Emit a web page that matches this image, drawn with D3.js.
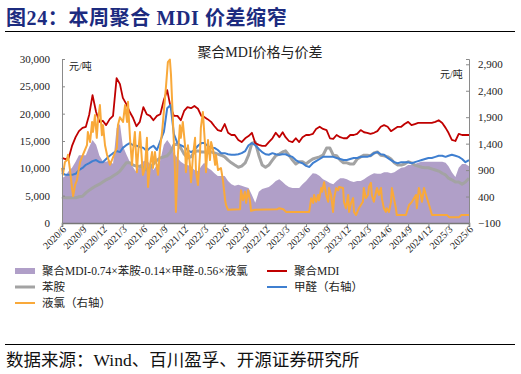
<!DOCTYPE html>
<html><head><meta charset="utf-8">
<script src="https://cdn.jsdelivr.net/npm/d3@7"></script>
<style>body{margin:0;background:#fff}svg{display:block}</style>
</head><body><svg id="c" width="521" height="374"></svg>
<script>
// ---------- data ----------
const xTickLabels = ["2020/6","2020/9","2020/12","2021/3","2021/6","2021/9","2021/12","2022/3","2022/6","2022/9","2022/12","2023/3","2023/6","2023/9","2023/12","2024/3","2024/6","2024/9","2024/12","2025/3","2025/6"];
const leftTicks = [0,5000,10000,15000,20000,25000,30000];
const rightTicks = [-100,400,900,1400,1900,2400,2900];
// semi-monthly observation dates (1st and 16th), 2020-06-01 .. 2025-06-01
const dates = d3.range(121).map(i => new Date(2020, 5 + Math.floor(i / 2), i % 2 ? 16 : 1));

const mdi = [11900,11700,11900,14100,15700,16800,17400,17600,19800,23400,
20300,18500,18700,17900,19000,19600,26500,25400,22900,21800,
20300,19200,17700,18500,21200,19900,19600,18800,19600,19900,
22500,24300,21200,19600,19600,18800,20500,21200,21000,21400,
20900,19600,19400,19000,18500,17700,17000,16800,18100,16500,
16100,16100,15200,14800,15500,15900,16500,14600,14300,14100,
14100,14800,15500,16500,15700,16600,15700,15000,14800,15500,
14800,15700,16100,16100,16300,17200,17600,17200,17000,15500,
15400,16100,15700,15500,15500,16100,16100,16300,17000,16600,
16500,16300,16500,16800,17600,17900,17600,16800,17200,17600,
17600,18100,18500,17900,18100,18300,18300,18300,18300,18300,
18500,18800,18300,17400,16500,15200,15000,16300,16100,16100,
16100];

const aniline = [4800,4600,4600,4600,4600,4800,4900,5500,6000,6400,
6800,7100,7500,7900,8200,8600,9000,9500,10200,11000,
11000,10600,10400,10400,10200,9700,10100,10800,11500,11900,
12100,12300,13000,14300,14500,13700,12600,11900,12100,13000,
13200,13000,13000,12800,13000,12800,12600,12400,12100,11500,
11000,10600,10200,10400,11000,12400,14600,14800,12400,10600,
10200,10600,11500,12300,12600,13000,13200,12400,11500,10800,
11200,11200,10800,11300,11700,11900,12100,12400,13700,13700,
12400,12300,11500,11000,11000,10800,10800,11700,12100,12400,
12400,12300,12800,13000,12400,12300,12100,11700,11000,10600,
10600,10800,11200,11000,10600,10400,10200,10100,10100,9900,
9700,9500,9100,8800,8200,7900,7500,7500,7100,7500,
8200];

const formaldehyde = [850,810,810,810,830,900,940,1000,1030,1070,
1090,1050,1050,1110,1170,1220,1260,1240,1320,1370,
1410,1370,1360,1340,1320,1260,1320,1360,1280,1450,
1620,2070,2130,1580,1410,1370,1340,1280,1240,1280,
1360,1410,1410,1360,1320,1320,1280,1220,1220,1200,
1190,1190,1200,1220,1260,1370,1410,1370,1300,1240,
1200,1190,1220,1200,1190,1200,1200,1170,1150,1090,
1050,1030,980,960,1030,1070,1110,1150,1150,1150,
1150,1130,1110,1090,1090,1110,1130,1130,1150,1150,
1150,1170,1220,1240,1200,1190,1130,1090,1050,1030,
1050,1050,1050,1030,1050,1070,1090,1110,1130,1130,
1150,1170,1170,1150,1170,1190,1170,1150,1110,1050,
1090];

const spread = [8200,8600,9500,10100,11200,12400,12400,12400,13900,15200,
14300,12300,11300,11200,11500,10800,17400,18100,14100,12600,
11200,10200,9300,10600,11300,11500,10800,9700,10600,11500,
14300,15200,14300,12800,11900,11200,10800,10600,10400,9700,
9500,10400,11000,10100,9700,9100,8600,8600,8600,7700,
7100,6800,7000,6800,6600,6400,5100,3700,5700,6200,
6400,6600,7100,7700,8000,7500,7000,6600,6400,6400,
6400,7100,7700,8400,9100,9000,8600,8000,7700,7300,
7100,7700,8200,8200,8000,7700,7500,7700,7700,8000,
8400,8800,9100,9000,9000,9300,9300,9100,9300,9700,
10100,10200,10600,10600,10800,11000,11200,11200,11200,11200,
11200,11200,11200,11000,10400,9300,8400,10100,10800,10800,
10400];

const chlorine = [["2020-06-01",940],["2020-06-05",810],["2020-06-14",1050],["2020-06-23",1090],["2020-06-28",1190],["2020-07-07",900],["2020-07-16",560],["2020-07-21",410],["2020-07-30",620],["2020-08-07",710],["2020-08-21",1050],["2020-09-03",1190],["2020-09-21",1370],["2020-09-25",1620],["2020-10-05",1430],["2020-10-14",1810],["2020-10-18",1620],["2020-10-27",1940],["2020-11-04",1510],["2020-11-09",1810],["2020-11-18",2130],["2020-11-27",1560],["2020-12-02",1750],["2020-12-11",1370],["2020-12-20",1190],["2021-01-02",1000],["2021-01-15",1130],["2021-02-02",1320],["2021-02-07",1750],["2021-02-16",1900],["2021-03-02",1810],["2021-03-11",2130],["2021-03-20",1810],["2021-03-24",2190],["2021-04-02",1510],["2021-04-11",1000],["2021-04-15",1240],["2021-04-24",1620],["2021-05-03",860],["2021-05-08",1190],["2021-05-17",1620],["2021-05-26",1050],["2021-05-30",810],["2021-06-08",940],["2021-06-17",1510],["2021-06-22",580],["2021-07-01",1000],["2021-07-10",1240],["2021-07-14",940],["2021-07-23",1240],["2021-08-01",940],["2021-08-06",810],["2021-08-15",1320],["2021-08-24",1620],["2021-08-28",1810],["2021-09-10",2450],["2021-09-19",2940],["2021-09-28",2990],["2021-10-03",2700],["2021-10-12",1810],["2021-10-21",860],["2021-10-25",110],["2021-11-03",1190],["2021-11-12",1750],["2021-11-16",1510],["2021-11-25",1810],["2021-12-05",1370],["2021-12-09",860],["2021-12-18",1370],["2021-12-27",1000],["2022-01-01",670],["2022-01-10",1190],["2022-01-19",1510],["2022-01-23",860],["2022-02-01",620],["2022-02-10",1190],["2022-02-14",1700],["2022-02-23",2000],["2022-03-05",1370],["2022-03-09",860],["2022-03-18",1470],["2022-03-27",1090],["2022-04-01",1430],["2022-04-10",1280],["2022-04-19",1000],["2022-04-23",1190],["2022-05-02",900],["2022-05-15",940],["2022-05-24",710],["2022-06-03",330],["2022-06-07",240],["2022-06-16",150],["2022-08-09",160],["2022-08-13",520],["2022-08-22",330],["2022-08-31",490],["2022-09-05",280],["2022-09-14",520],["2022-09-23",300],["2022-09-27",130],["2022-10-15",150],["2023-01-22",160],["2023-02-01",180],["2023-02-19",160],["2023-03-03",110],["2023-06-15",110],["2023-06-24",370],["2023-07-03",280],["2023-07-07",430],["2023-07-16",300],["2023-07-25",430],["2023-07-29",330],["2023-08-08",560],["2023-08-12",490],["2023-08-21",670],["2023-08-30",430],["2023-09-08",300],["2023-09-12",560],["2023-09-21",430],["2023-09-30",110],["2023-10-05",370],["2023-10-14",560],["2023-10-23",520],["2023-10-27",580],["2023-11-14",560],["2023-11-18",300],["2023-11-27",180],["2023-12-07",430],["2023-12-11",110],["2023-12-20",280],["2023-12-29",370],["2024-01-02",110],["2024-01-11",50],["2024-01-24",180],["2024-02-11",300],["2024-02-15",560],["2024-02-24",370],["2024-03-05",430],["2024-03-09",580],["2024-03-18",660],["2024-03-22",430],["2024-03-31",300],["2024-04-14",560],["2024-04-23",430],["2024-05-02",560],["2024-05-06",370],["2024-05-15",180],["2024-05-24",110],["2024-05-28",180],["2024-06-07",110],["2024-06-16",300],["2024-06-20",560],["2024-06-29",370],["2024-07-08",180],["2024-07-12",50],["2024-08-22",50],["2024-09-05",240],["2024-09-18",300],["2024-10-06",430],["2024-10-10",180],["2024-10-19",560],["2024-10-28",430],["2024-11-02",300],["2024-11-11",560],["2024-11-20",430],["2024-12-04",240],["2024-12-13",110],["2024-12-17",50],["2025-02-23",50],["2025-03-04",10],["2025-04-18",10],["2025-04-27",50],["2025-06-01",50]];

const legendItems = [
  {label:"聚合MDI-0.74×苯胺-0.14×甲醛-0.56×液氯", type:"area", color:"#b09fc8"},
  {label:"聚合MDI", type:"line", color:"#c00000"},
  {label:"苯胺", type:"line", color:"#a3a3a3"},
  {label:"甲醛（右轴）", type:"line", color:"#3f7fd0"},
  {label:"液氯（右轴）", type:"line", color:"#f9a93a"}
];

// ---------- drawing ----------
const svg = d3.select("#c");
const serif = "'Liberation Serif','Noto Sans CJK SC',serif";
const parseT = d3.timeParse("%Y/%m");
const parseD = d3.timeParse("%Y-%m-%d");
const tickDates = xTickLabels.map(parseT);

const x = d3.scaleTime().domain([tickDates[0], tickDates[tickDates.length-1]]).range([62, 469]);
const yL = d3.scaleLinear().domain([0, 30000]).range([223, 59]);
const yR = d3.scaleLinear().domain([-100, 3000]).range([223, 59]);

// header
svg.append("text").attr("x", 6).attr("y", 24.5)
  .attr("font-family", serif).attr("font-weight", "bold").attr("font-size", 20)
  .attr("letter-spacing", 0.6)
  .attr("fill", "#1c2b7f").text("图24：本周聚合 MDI 价差缩窄");
svg.append("line").attr("x1", 5).attr("x2", 515).attr("y1", 31.5).attr("y2", 31.5)
  .attr("stroke", "#000").attr("stroke-width", 1);

svg.append("text").attr("x", 260).attr("y", 57).attr("text-anchor", "middle")
  .attr("font-family", serif).attr("font-size", 14).attr("fill", "#222").text("聚合MDI价格与价差");

// area
const area = d3.area().x((d, i) => x(dates[i])).y0(yL(0)).y1(d => yL(d));
svg.append("path").datum(spread).attr("d", area).attr("fill", "#b09fc8");

const lineL = d3.line().x((d, i) => x(dates[i])).y(d => yL(d));
const lineR = d3.line().x((d, i) => x(dates[i])).y(d => yR(d));

svg.append("path").datum(aniline).attr("d", lineL).attr("fill", "none")
  .attr("stroke", "#a3a3a3").attr("stroke-width", 3).attr("stroke-linejoin", "round");
svg.append("path").datum(mdi).attr("d", lineL).attr("fill", "none")
  .attr("stroke", "#c00000").attr("stroke-width", 1.8).attr("stroke-linejoin", "round");
svg.append("path").datum(formaldehyde).attr("d", lineR).attr("fill", "none")
  .attr("stroke", "#3f7fd0").attr("stroke-width", 2).attr("stroke-linejoin", "round");
const lineC = d3.line().x(d => x(parseD(d[0]))).y(d => yR(d[1]));
svg.append("path").datum(chlorine).attr("d", lineC).attr("fill", "none")
  .attr("stroke", "#f9a93a").attr("stroke-width", 2).attr("stroke-linejoin", "round");

// axes
const gL = svg.append("g").attr("transform", "translate(62,0)")
  .call(d3.axisLeft(yL).tickValues(leftTicks).tickSize(-3).tickPadding(12).tickFormat(d3.format(",")));
const gR = svg.append("g").attr("transform", "translate(469,0)")
  .call(d3.axisRight(yR).tickValues(rightTicks).tickSize(-3).tickPadding(9).tickFormat(d3.format(",")));
const gX = svg.append("g").attr("transform", "translate(0,223)")
  .call(d3.axisBottom(x).tickValues(tickDates).tickSize(4).tickFormat((d, i) => xTickLabels[i]));
[gL, gR, gX].forEach(g => {
  g.selectAll("text").attr("font-family", serif).attr("font-size", 11).attr("fill", "#222");
  g.selectAll("line").attr("stroke", "#8a8a8a");
  g.select(".domain").attr("stroke", "#8a8a8a");
});
gX.select(".domain").attr("stroke", "#777").attr("stroke-width", 1.6);
gX.selectAll("text").attr("font-size", 10).attr("text-anchor", "end")
  .attr("dx", "-2").attr("dy", "2").attr("transform", "rotate(-45)").attr("y", 6).attr("x", 0);

// units
svg.append("text").attr("x", 69).attr("y", 70).attr("font-family", serif).attr("font-size", 10)
  .attr("fill", "#222").text("元/吨");
svg.append("text").attr("x", 440).attr("y", 78).attr("font-family", serif).attr("font-size", 10)
  .attr("fill", "#222").text("元/吨");

// legend
const legPos = [[15, 271], [267, 271], [15, 287], [267, 287], [15, 303]];
legendItems.forEach((it, i) => {
  const [lx, ly] = legPos[i];
  if (it.type === "area") {
    svg.append("rect").attr("x", lx).attr("y", ly - 3).attr("width", 20).attr("height", 6).attr("fill", it.color);
  } else {
    svg.append("line").attr("x1", lx).attr("x2", lx + 20).attr("y1", ly).attr("y2", ly)
      .attr("stroke", it.color).attr("stroke-width", i === 2 ? 3 : 2);
  }
  svg.append("text").attr("x", lx + 27).attr("y", ly + 4).attr("font-family", serif)
    .attr("font-size", 11.5).attr("fill", "#222").text(it.label);
});

// footer
svg.append("line").attr("x1", 5).attr("x2", 515).attr("y1", 344.5).attr("y2", 344.5)
  .attr("stroke", "#000").attr("stroke-width", 1);
svg.append("text").attr("x", 6).attr("y", 366).attr("font-family", serif).attr("font-size", 17.5)
  .attr("fill", "#111").text("数据来源：Wind、百川盈孚、开源证券研究所");
</script>
</body></html>
